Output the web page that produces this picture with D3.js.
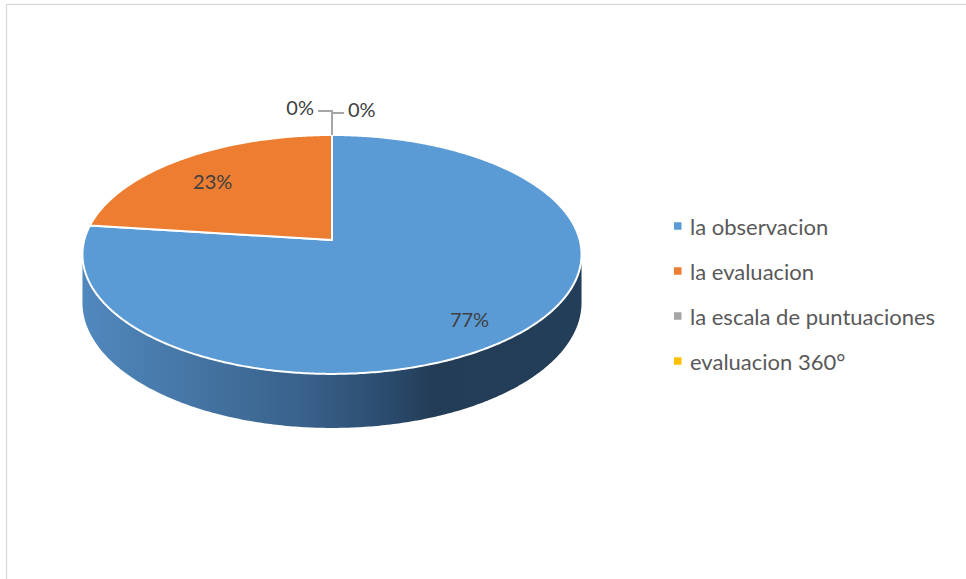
<!DOCTYPE html>
<html>
<head>
<meta charset="utf-8">
<script src="https://cdn.jsdelivr.net/npm/d3@7"></script>
<style>
  html, body { margin: 0; padding: 0; background: #fff; }
  svg { display: block; }
</style>
</head>
<body>
<svg id="chart" width="966" height="579"></svg>
<script>
// Series
const categories = ["la observacion", "la evaluacion", "la escala de puntuaciones", "evaluacion 360°"];
const values = [77, 23, 0, 0];
const valueLabels = ["77%", "23%", "0%", "0%"];
const colors = ["#5B9BD5", "#ED7D31", "#A5A5A5", "#FFC000"];

const W = 966, H = 579;
const svg = d3.select("#chart");
const FONT = "Lato, 'Open Sans', 'Liberation Sans', sans-serif";

// chart area frame
svg.append("rect")
  .attr("x", 6.5).attr("y", 4.5)
  .attr("width", W + 20).attr("height", H + 20)
  .attr("fill", "#fff").attr("stroke", "#D9D9D9").attr("stroke-width", 1.3);

// 3D pie geometry: tilted disc with mild perspective
const cx = 332, cy = 240;
const Ax = 247.7, Ay = 117.7;   // half-axes of the projected disc
const persp = 0.121;           // perspective strength (near side larger)
const depth = 47.5;            // thickness of the disc

// angle a: clockwise from 12 o'clock (d3.pie convention)
function proj(a, r, dz) {
  const u = r * Math.sin(a), v = -r * Math.cos(a);
  const f = 1 / (1 - persp * v);
  return [cx + Ax * u * f, cy + Ay * v * f + (dz || 0) * f];
}
function arcPts(a0, a1, r, dz) {
  const n = Math.max(2, Math.ceil(Math.abs(a1 - a0) / 0.01));
  return d3.range(n + 1).map(i => proj(a0 + (a1 - a0) * i / n, r, dz));
}
const line = d3.line();

const pie = d3.pie().sort(null).value(d => d)(values);

// visible front band of the side wall: between the two silhouette angles
const aRight = Math.acos(-persp), aLeft = 2 * Math.PI - aRight;

const xl = proj(aLeft, 1)[0], xr = proj(aRight, 1)[0];
const defs = svg.append("defs");
const grad = defs.append("linearGradient")
  .attr("id", "sideShade").attr("gradientUnits", "userSpaceOnUse")
  .attr("x1", xl).attr("x2", xr).attr("y1", 0).attr("y2", 0);
[[0, "#5088BE"], [0.2, "#4677A6"], [0.45, "#38608A"], [0.62, "#2A4A6B"], [0.7, "#233D57"], [1, "#233E58"]]
  .forEach(([o, c]) => grad.append("stop").attr("offset", o).attr("stop-color", c));

const sideG = svg.append("g");
pie.forEach((p, i) => {
  const a0 = Math.max(p.startAngle, aRight), a1 = Math.min(p.endAngle, aLeft);
  if (a1 <= a0) return;
  const top = arcPts(a0, a1, 1, 0);
  const bot = arcPts(a0, a1, 1, depth).reverse();
  sideG.append("path")
    .attr("d", line(top.concat(bot)) + "Z")
    .attr("fill", i === 0 ? "url(#sideShade)" : d3.color(colors[i]).darker(1.2));
});

// top faces
const topG = svg.append("g");
pie.forEach((p, i) => {
  if (p.endAngle - p.startAngle <= 0) return;
  const pts = [proj(0, 0)].concat(arcPts(p.startAngle, p.endAngle, 1, 0));
  topG.append("path")
    .attr("d", line(pts) + "Z")
    .attr("fill", colors[i])
    .attr("stroke", "#fff").attr("stroke-width", 2)
    .attr("stroke-linejoin", "round");
});

// data labels for non-empty slices
const labelG = svg.append("g")
  .attr("font-family", FONT).attr("font-size", 20).attr("fill", "#404040");
pie.forEach((p, i) => {
  if (p.value <= 0) return;
  const mid = (p.startAngle + p.endAngle) / 2;
  const [x, y] = proj(mid, 0.78, 0);
  labelG.append("text")
    .attr("x", x).attr("y", y + 5)
    .attr("text-anchor", "middle").attr("dominant-baseline", "central")
    .text(valueLabels[i]);
});

// zero slices: labels pulled out with leader lines, one each side
const zeros = pie.map((p, i) => ({ p, i })).filter(d => d.p.value <= 0);
zeros.forEach((d, k) => {
  const [ax, ay] = proj(d.p.startAngle, 1, 0);
  const left = k === 0;
  const ly = ay - (left ? 24 : 22);
  const lx = left ? ax - 14 : ax + 12;
  svg.append("path")
    .attr("d", line([[ax, ay], [ax, ly], [lx, ly]]))
    .attr("fill", "none").attr("stroke", "#A6A6A6").attr("stroke-width", 2);
  labelG.append("text")
    .attr("x", left ? lx - 4 : lx + 4).attr("y", ly - 4)
    .attr("text-anchor", left ? "end" : "start").attr("dominant-baseline", "central")
    .text(valueLabels[d.i]);
});

// legend
const legend = svg.append("g")
  .attr("font-family", FONT).attr("font-size", 22).attr("fill", "#595959");
const legY = d3.scalePoint().domain(categories).range([226, 361]);
categories.forEach((c, i) => {
  const y = legY(c);
  legend.append("rect")
    .attr("x", 674).attr("y", y - 3.75).attr("width", 7.5).attr("height", 7.5)
    .attr("fill", colors[i]);
  legend.append("text")
    .attr("x", 690).attr("y", y)
    .attr("dominant-baseline", "central")
    .text(c);
});
</script>
</body>
</html>
